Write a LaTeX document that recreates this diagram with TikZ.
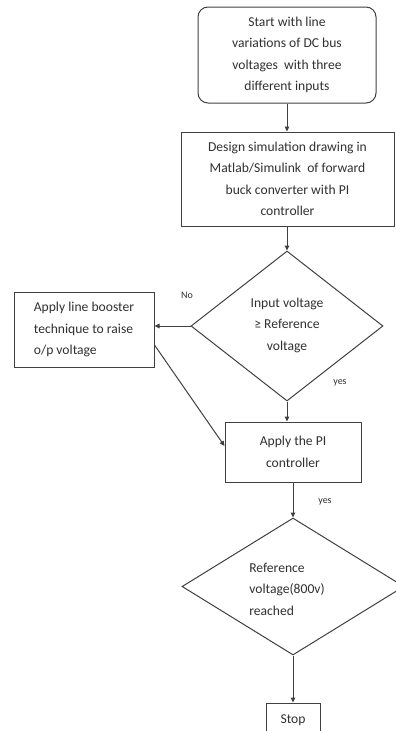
\documentclass[tikz,border=0pt]{standalone}
\usepackage{fontspec}
\setmainfont{Carlito}
\usetikzlibrary{arrows.meta,shapes.geometric}
\definecolor{ink}{HTML}{303030}
\definecolor{edge}{HTML}{404040}
\begin{document}
\begin{tikzpicture}[x=1pt,y=-1pt,
  box/.style={draw=edge,line width=1pt,inner sep=0pt,text=ink,align=center,
    font=\fontsize{13.6}{21.5}\selectfont},
  dia/.style={draw=edge,line width=1pt,shape=diamond,inner sep=0pt},
  txt/.style={inner sep=0pt,text=ink,align=center,font=\fontsize{13.6}{21.5}\selectfont},
  lbl/.style={inner sep=0pt,text=ink,font=\fontsize{10}{11}\selectfont},
  arr/.style={draw=edge,line width=1pt,-{Triangle[length=5pt,width=4.5pt]}}]
\useasboundingbox (0,0) rectangle (396,731);
\clip (0,0) rectangle (396,731);

% process boxes
\node[box,rounded corners=10pt,minimum width=178pt,minimum height=96pt] (start) at (287,55)
  {Start with line\\variations of DC bus\\voltages\ \ with three\\different inputs};
\node[box,minimum width=213pt,minimum height=94pt] (design) at (287.5,179)
  {Design simulation drawing in\\Matlab/Simulink\ \ of forward\\buck converter with PI\\controller};
\node[box,align=left,minimum width=140pt,minimum height=75pt] (boost) at (84,329.5)
  {Apply line booster\\technique to raise\\o/p voltage};
\node[box,minimum width=136pt,minimum height=60pt] (pi) at (293,452)
  {Apply the PI\\controller};
\node[box,minimum width=54pt,minimum height=34pt] (stop) at (293,720) {Stop};

% decisions
\node[dia,minimum width=192pt,minimum height=150pt] (d1) at (287,326) {};
\node[txt] (d1t) at (287,325) {Input voltage\\≥ Reference\\voltage};
\node[dia,minimum width=222pt,minimum height=137pt] (d2) at (293,586.5) {};
\node[txt,align=left] (d2t) at (287,589) {Reference\\voltage(800v)\\reached};

% branch labels
\node[lbl] (no) at (187,295) {No};
\node[lbl] (yes1) at (340,383) {yes};
\node[lbl] (yes2) at (325,502) {yes};

% connectors
\draw[arr] (start.south) -- (start.south |- design.north);
\draw[arr] (d1.north |- design.south) -- (d1.north);
\draw[arr] (d1.west) -- (d1.west -| boost.east);
\draw[arr] (d1.south) -- (d1.south |- pi.north);
\draw[arr] ([yshift=-15.5pt]boost.east) -- ([yshift=6pt]pi.west);
\draw[arr] (d2.north |- pi.south) -- (d2.north);
\draw[arr] (d2.south) -- (stop.north);
\end{tikzpicture}
\end{document}
